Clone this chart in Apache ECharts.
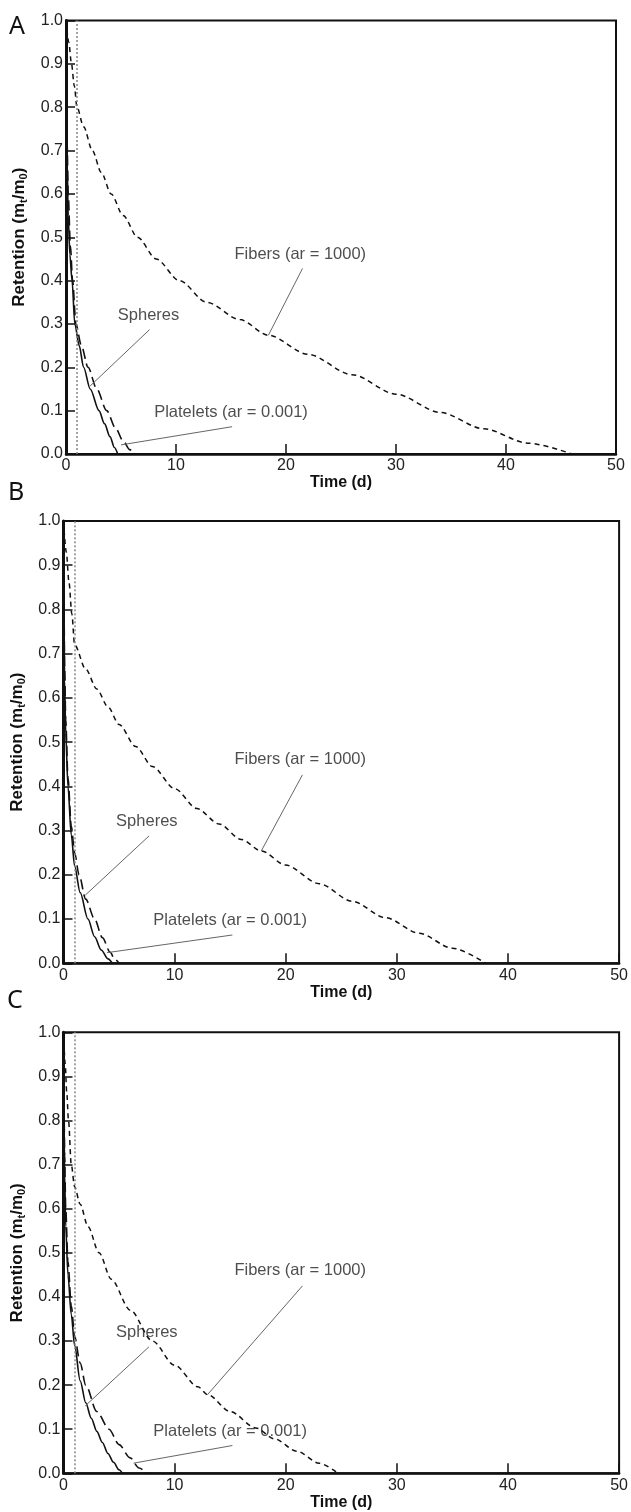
<!DOCTYPE html>
<html><head><meta charset="utf-8">
<script src="https://cdn.jsdelivr.net/npm/echarts@6/dist/echarts.min.js"></script>
<style>html,body{margin:0;padding:0;background:#fff}#c{width:631px;height:1512px}</style>
</head><body><div id="c"></div>
<script>
// ---------- data ----------
const panelLetters = ['A', 'B', 'C'];
const doseDay = 1;
const xMin = 0, xMax = 50, xStep = 10;
const yMin = 0, yMax = 1, yStep = 0.1;

const spheresA = [[0,1],[0.02,0.9],[0.05,0.8],[0.1,0.68],[0.2,0.55],[0.35,0.46],[0.55,0.4],[0.8,0.3],[1.2,0.25],[1.6,0.2],[2.2,0.15],[3.0,0.1],[3.5,0.07],[4.0,0.04],[4.4,0.015],[4.7,0]];
const plateletsA = [[0,1],[0.02,0.92],[0.05,0.83],[0.1,0.72],[0.2,0.6],[0.4,0.48],[0.6,0.4],[0.9,0.3],[1.4,0.25],[2.0,0.2],[2.8,0.15],[3.7,0.1],[4.5,0.06],[5.2,0.03],[5.8,0.01],[6.2,0]];
const fibersA = [[0,1],[0.25,0.95],[0.5,0.9],[0.75,0.85],[1,0.8],[1.6,0.755],[2.4,0.7],[3.2,0.65],[4.1,0.6],[5.2,0.55],[6.5,0.5],[8.2,0.45],[10.3,0.4],[12.8,0.35],[15.8,0.31],[18.4,0.274],[22,0.23],[26,0.183],[30,0.138],[34,0.096],[38,0.058],[42,0.025],[46,0]];

const spheresB = [[0,1],[0.02,0.88],[0.05,0.76],[0.1,0.64],[0.2,0.52],[0.4,0.4],[0.7,0.29],[1.0,0.22],[1.5,0.16],[2.2,0.1],[2.8,0.06],[3.4,0.03],[4.0,0.01],[4.4,0]];
const plateletsB = [[0,1],[0.02,0.9],[0.05,0.79],[0.1,0.67],[0.2,0.55],[0.4,0.42],[0.7,0.31],[1.0,0.25],[1.4,0.2],[2.0,0.145],[2.8,0.1],[3.5,0.058],[4.2,0.025],[4.6,0.01],[5.0,0]];
const fibersB = [[0,1],[0.25,0.93],[0.5,0.86],[0.75,0.79],[1,0.72],[2,0.665],[3,0.62],[4,0.58],[5,0.54],[6.5,0.49],[8,0.445],[10,0.395],[12,0.35],[14,0.315],[16,0.28],[17.8,0.254],[20,0.222],[23,0.18],[26,0.14],[29,0.103],[32,0.068],[35,0.034],[38,0]];

const spheresC = [[0,1],[0.02,0.9],[0.05,0.8],[0.1,0.68],[0.2,0.56],[0.4,0.45],[0.7,0.36],[1.0,0.29],[1.5,0.21],[2.0,0.16],[2.5,0.125],[3.0,0.095],[3.5,0.07],[4.0,0.045],[4.5,0.025],[5.0,0.008],[5.3,0]];
const plateletsC = [[0,1],[0.02,0.92],[0.05,0.83],[0.1,0.72],[0.2,0.6],[0.4,0.48],[0.7,0.38],[1.0,0.31],[1.5,0.25],[2.0,0.2],[3.0,0.14],[4.1,0.1],[5.0,0.065],[6.0,0.035],[6.8,0.012],[7.5,0]];
const fibersC = [[0,1],[0.15,0.93],[0.3,0.86],[0.45,0.8],[0.7,0.7],[1,0.65],[1.5,0.61],[2.2,0.56],[3.2,0.5],[4.3,0.44],[6,0.37],[8,0.3],[10,0.245],[12.1,0.196],[13,0.178],[15,0.14],[17.3,0.103],[19,0.078],[21,0.05],[23,0.023],[24.7,0]];

// annotation labels (data coordinates) and leader lines [from, to]
const labelTexts = ['Fibers (ar = 1000)', 'Spheres', 'Platelets (ar = 0.001)'];
const labelPos = [[21.3, 0.46], [7.5, 0.32], [15.0, 0.096]];
const leadersA = [[[21.5, 0.428], [18.4, 0.274]], [[7.6, 0.287], [2.2, 0.157]], [[15.1, 0.063], [5.0, 0.021]]];
const leadersB = [[[21.5, 0.426], [17.8, 0.254]], [[7.7, 0.288], [1.96, 0.154]], [[15.2, 0.064], [3.9, 0.024]]];
const leadersC = [[[21.5, 0.425], [12.95, 0.178]], [[7.7, 0.287], [1.96, 0.153]], [[15.2, 0.063], [6.3, 0.023]]];

const xName = 'Time (d)';

// ---------- layout ----------
const panels = [
  { letter: panelLetters[0], sph: spheresA, pla: plateletsA, fib: fibersA, lead: leadersA, box: { left: 66, top: 20.5, width: 550, height: 433.5 }, letterPos: [9, 14] },
  { letter: panelLetters[1], sph: spheresB, pla: plateletsB, fib: fibersB, lead: leadersB, box: { left: 63.5, top: 521, width: 557, height: 442.3 }, letterPos: [8, 480] },
  { letter: panelLetters[2], sph: spheresC, pla: plateletsC, fib: fibersC, lead: leadersC, box: { left: 63.5, top: 1032.3, width: 558, height: 441 }, letterPos: [7, 988] }
];

const FONT = '"Liberation Sans", Arial, sans-serif';
const grids = [], xAxes = [], yAxes = [], series = [], graphics = [];

panels.forEach((p, i) => {
  grids.push(Object.assign({ show: true, borderColor: '#111', borderWidth: 2, backgroundColor: '#fff' }, p.box));
  xAxes.push({
    type: 'value', gridIndex: i, min: xMin, max: xMax, interval: xStep,
    name: xName, nameLocation: 'middle', nameGap: 17,
    nameTextStyle: { fontFamily: FONT, fontWeight: 'bold', fontSize: 16, color: '#111' },
    axisLine: { lineStyle: { color: '#111', width: 2.5 } },
    axisTick: { inside: true, length: 10, lineStyle: { color: '#111', width: 1.5 } },
    axisLabel: { margin: 4, fontFamily: FONT, fontSize: 16, color: '#222' },
    splitLine: { show: false }
  });
  yAxes.push({
    type: 'value', gridIndex: i, min: yMin, max: yMax, interval: yStep,
    name: '{b|Retention (m}{s|t}{b|/m}{s|0}{b|)}', nameLocation: 'middle', nameGap: 35,
    nameTextStyle: {
      rich: {
        b: { fontFamily: FONT, fontWeight: 'bold', fontSize: 17, color: '#111', lineHeight: 21 },
        s: { fontFamily: FONT, fontWeight: 'bold', fontSize: 11, color: '#111', verticalAlign: 'bottom', lineHeight: 12 }
      }
    },
    axisLine: { lineStyle: { color: '#111', width: 3 } },
    axisTick: { inside: true, length: 9, lineStyle: { color: '#111', width: 1.5 } },
    axisLabel: { margin: 3, fontFamily: FONT, fontSize: 16, color: '#222', formatter: v => v.toFixed(1) },
    splitLine: { show: false }
  });
  const common = { type: 'line', xAxisIndex: i, yAxisIndex: i, showSymbol: false, symbol: 'none', smooth: 0.3, smoothMonotone: 'x', silent: true, z: 3 };
  series.push(Object.assign({}, common, { name: 'Fibers', data: p.fib, lineStyle: { color: '#111', width: 1.5, type: [5, 4] } }));
  series.push(Object.assign({}, common, { name: 'Platelets', data: p.pla, lineStyle: { color: '#111', width: 1.6, type: [10, 5] } }));
  series.push(Object.assign({}, common, { name: 'Spheres', data: p.sph, lineStyle: { color: '#111', width: 1.6 },
    markLine: { silent: true, symbol: 'none', label: { show: false },
      lineStyle: { color: '#888', width: 1.5, type: [2, 2] },
      data: [{ xAxis: doseDay }] } }));
  series.push({
    type: 'scatter', xAxisIndex: i, yAxisIndex: i, symbolSize: 0, silent: true, z: 5,
    data: labelTexts.map((t, k) => ({ name: t, value: labelPos[k] })),
    label: { show: true, position: 'inside', formatter: '{b}', fontFamily: FONT, fontSize: 16.5, color: '#222' },
    markLine: { silent: true, symbol: 'none', label: { show: false }, animation: false,
      lineStyle: { color: '#666', width: 1, type: 'solid' },
      data: p.lead.map(seg => [{ coord: seg[0] }, { coord: seg[1] }]) }
  });
  graphics.push({ type: 'text', left: p.letterPos[0], top: p.letterPos[1],
    style: { text: p.letter, font: '25px "Noto Sans", "Liberation Sans", sans-serif', fill: '#111' } });
});

const chart = echarts.init(document.getElementById('c'), null, { renderer: 'canvas' });
chart.setOption({
  animation: false,
  grid: grids, xAxis: xAxes, yAxis: yAxes, series: series, graphic: graphics
});
</script></body></html>
